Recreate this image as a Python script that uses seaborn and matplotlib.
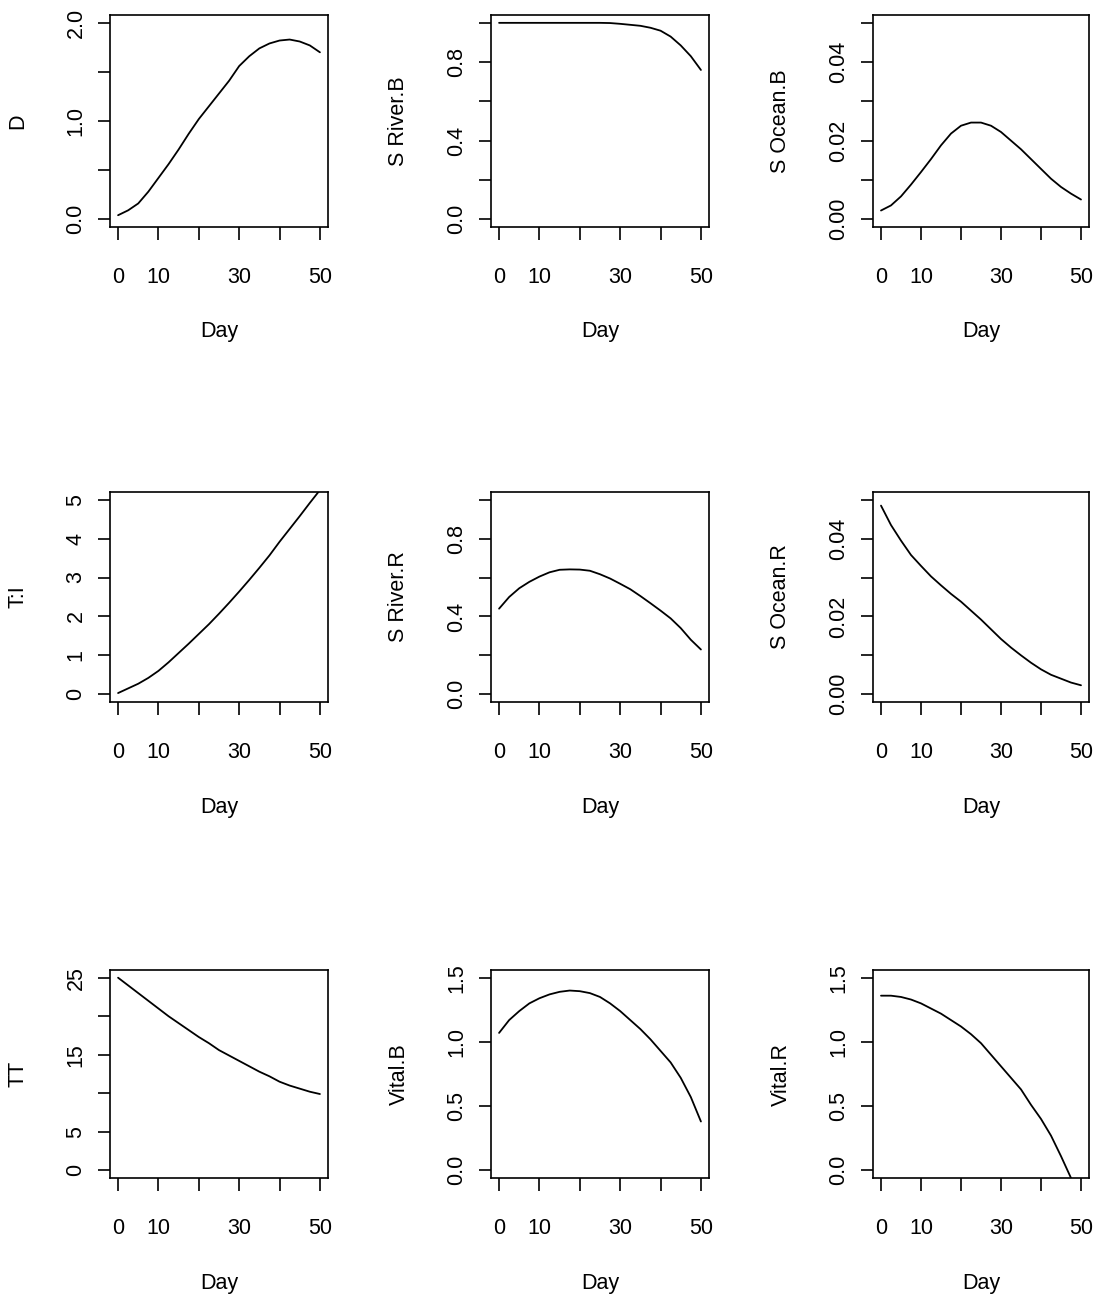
import numpy as np
import pandas as pd
import matplotlib
matplotlib.use("Agg")
import matplotlib.pyplot as plt
import seaborn as sns

day = [0, 2.5, 5, 7.5, 10, 12.5, 15, 17.5, 20, 22.5, 25, 27.5, 30, 32.5, 35,
       37.5, 40, 42.5, 45, 47.5, 50]

d_vals = [0.04, 0.09, 0.16, 0.28, 0.42, 0.56, 0.71, 0.87, 1.02, 1.15, 1.28, 1.41,
          1.56, 1.66, 1.74, 1.79, 1.82, 1.83, 1.81, 1.77, 1.70]
s_river_b = [1.0, 1.0, 1.0, 1.0, 1.0, 1.0, 1.0, 1.0, 1.0, 1.0, 1.0, 0.999,
             0.995, 0.99, 0.985, 0.975, 0.96, 0.93, 0.885, 0.83, 0.76]
s_ocean_b = [0.0022, 0.0035, 0.0058, 0.0088, 0.0120, 0.0153, 0.0188, 0.0218,
             0.0238, 0.0246, 0.0246, 0.0238, 0.0222, 0.0200, 0.0178, 0.0153,
             0.0128, 0.0103, 0.0082, 0.0065, 0.0050]
t_i = [0.03, 0.15, 0.27, 0.42, 0.60, 0.82, 1.06, 1.30, 1.55, 1.80, 2.07, 2.35,
       2.64, 2.94, 3.25, 3.57, 3.92, 4.25, 4.58, 4.92, 5.25]
s_river_r = [0.44, 0.50, 0.545, 0.578, 0.605, 0.627, 0.640, 0.642, 0.641, 0.635,
             0.617, 0.595, 0.568, 0.540, 0.505, 0.468, 0.43, 0.39, 0.34, 0.28, 0.23]
s_ocean_r = [0.0485, 0.0435, 0.0395, 0.0358, 0.0330, 0.0303, 0.0280, 0.0258,
             0.0238, 0.0215, 0.0192, 0.0167, 0.0142, 0.0120, 0.0100, 0.0081,
             0.0064, 0.0050, 0.0040, 0.0030, 0.0023]
tt = [25.0, 24.0, 23.0, 22.0, 21.0, 20.0, 19.1, 18.2, 17.3, 16.5, 15.6, 14.9,
      14.2, 13.5, 12.8, 12.2, 11.5, 11.0, 10.6, 10.2, 9.9]
vital_b = [1.07, 1.17, 1.24, 1.30, 1.34, 1.37, 1.39, 1.40, 1.395, 1.38, 1.35,
           1.30, 1.24, 1.17, 1.10, 1.02, 0.93, 0.84, 0.72, 0.57, 0.38]
vital_r = [1.36, 1.36, 1.35, 1.33, 1.30, 1.26, 1.22, 1.17, 1.12, 1.06, 0.99,
           0.90, 0.81, 0.72, 0.63, 0.51, 0.40, 0.27, 0.11, -0.06, -0.25]

names = ["D", "S River.B", "S Ocean.B", "T:I", "S River.R", "S Ocean.R",
         "TT", "Vital.B", "Vital.R"]
series = [d_vals, s_river_b, s_ocean_b, t_i, s_river_r, s_ocean_r, tt, vital_b, vital_r]

x_ticks = [0, 10, 20, 30, 40, 50]
x_ticklabels = ["0", "10", "", "30", "", "50"]

y_ranges = [(0, 2), (0, 1), (0, 0.05), (0, 5), (0, 1), (0, 0.05), (0, 25), (0, 1.5), (0, 1.5)]
y_ticks = [
    [0, 0.5, 1.0, 1.5, 2.0],
    [0, 0.2, 0.4, 0.6, 0.8, 1.0],
    [0, 0.01, 0.02, 0.03, 0.04, 0.05],
    [0, 1, 2, 3, 4, 5],
    [0, 0.2, 0.4, 0.6, 0.8, 1.0],
    [0, 0.01, 0.02, 0.03, 0.04, 0.05],
    [0, 5, 10, 15, 20, 25],
    [0, 0.5, 1.0, 1.5],
    [0, 0.5, 1.0, 1.5],
]
y_ticklabels = [
    ["0.0", "", "1.0", "", "2.0"],
    ["0.0", "", "0.4", "", "0.8", ""],
    ["0.00", "", "0.02", "", "0.04", ""],
    ["0", "1", "2", "3", "4", "5"],
    ["0.0", "", "0.4", "", "0.8", ""],
    ["0.00", "", "0.02", "", "0.04", ""],
    ["0", "5", "", "15", "", "25"],
    ["0.0", "0.5", "1.0", "1.5"],
    ["0.0", "0.5", "1.0", "1.5"],
]

sns.set_style("white")
plt.rcParams['font.family'] = ['Liberation Sans', 'DejaVu Sans']
plt.rcParams['text.color'] = 'black'
plt.rcParams['axes.labelcolor'] = 'black'

FS = 15.5
W, H = 1097, 1300
fig = plt.figure(figsize=(W / 100, H / 100), dpi=100)

col_left = [110, 491, 873]
col_w = [218, 218, 216]
row_top = [15, 492, 970]
row_h = [212, 210, 208]

for i, (name, vals) in enumerate(zip(names, series)):
    r, c = divmod(i, 3)
    left = col_left[c] / W
    bottom = 1 - (row_top[r] + row_h[r]) / H
    ax = fig.add_axes([left, bottom, col_w[c] / W, row_h[r] / H])
    df = pd.DataFrame({"Day": day, name: vals})
    sns.lineplot(data=df, x="Day", y=name, ax=ax, color="black", linewidth=1.3)
    lo, hi = y_ranges[i]
    rng = hi - lo
    ax.set_ylim(lo - 0.04 * rng, hi + 0.04 * rng)
    ax.set_xlim(-2, 52)
    ax.set_xticks(x_ticks)
    ax.set_xticklabels(x_ticklabels)
    ax.set_yticks(y_ticks[i])
    ax.set_yticklabels(y_ticklabels[i], rotation=90, va="center")
    ax.tick_params(axis="x", direction="out", length=9, width=1.2, pad=20,
                   labelsize=FS, colors="black")
    ax.tick_params(axis="y", direction="out", length=9, width=1.2, pad=8,
                   labelsize=FS, colors="black")
    ax.tick_params(left=True, bottom=True)
    for sp in ax.spines.values():
        sp.set_visible(True)
        sp.set_color("black")
        sp.set_linewidth(1.2)
    ax.set_xlabel("Day", fontsize=FS, color="black")
    ax.set_ylabel(name, fontsize=FS, color="black")
    ax.xaxis.set_label_coords(0.5, -105 / row_h[r])
    ax.xaxis.label.set_va("center")
    ax.yaxis.set_label_coords(-92 / col_w[c], 0.5)
    ax.yaxis.label.set_va("center")
    ax.grid(False)

fig.savefig("out.png", dpi=100, facecolor="white")
